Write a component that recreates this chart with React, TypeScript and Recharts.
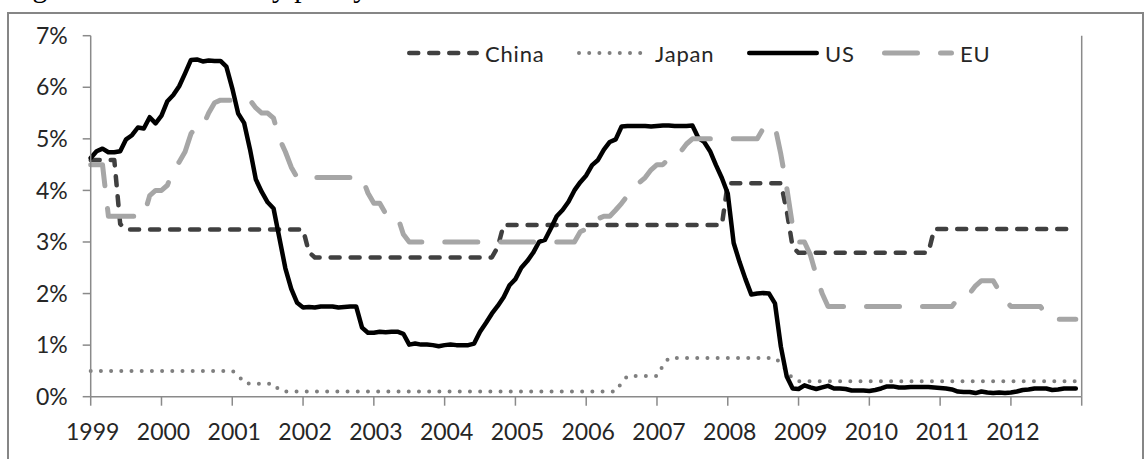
import { LineChart, Line, XAxis, YAxis } from "recharts";

// monthly policy rates, Jan 1999 - Dec 2012 (%), one row per year
const chinaRate = [
  4.59, 4.59, 4.59, 4.59, 4.59, 3.35, 3.24, 3.24, 3.24, 3.24, 3.24, 3.24,
  3.24, 3.24, 3.24, 3.24, 3.24, 3.24, 3.24, 3.24, 3.24, 3.24, 3.24, 3.24,
  3.24, 3.24, 3.24, 3.24, 3.24, 3.24, 3.24, 3.24, 3.24, 3.24, 3.24, 3.24,
  3.24, 2.8, 2.7, 2.7, 2.7, 2.7, 2.7, 2.7, 2.7, 2.7, 2.7, 2.7,
  2.7, 2.7, 2.7, 2.7, 2.7, 2.7, 2.7, 2.7, 2.7, 2.7, 2.7, 2.7,
  2.7, 2.7, 2.7, 2.7, 2.7, 2.7, 2.7, 2.7, 2.7, 2.9, 3.33, 3.33,
  3.33, 3.33, 3.33, 3.33, 3.33, 3.33, 3.33, 3.33, 3.33, 3.33, 3.33, 3.33,
  3.33, 3.33, 3.33, 3.33, 3.33, 3.33, 3.33, 3.33, 3.33, 3.33, 3.33, 3.33,
  3.33, 3.33, 3.33, 3.33, 3.33, 3.33, 3.33, 3.33, 3.33, 3.33, 3.33, 3.33,
  4.14, 4.14, 4.14, 4.14, 4.14, 4.14, 4.14, 4.14, 4.14, 4.14, 3.6, 2.9,
  2.79, 2.79, 2.79, 2.79, 2.79, 2.79, 2.79, 2.79, 2.79, 2.79, 2.79, 2.79,
  2.79, 2.79, 2.79, 2.79, 2.79, 2.79, 2.79, 2.79, 2.79, 2.79, 2.79, 3.25,
  3.25, 3.25, 3.25, 3.25, 3.25, 3.25, 3.25, 3.25, 3.25, 3.25, 3.25, 3.25,
  3.25, 3.25, 3.25, 3.25, 3.25, 3.25, 3.25, 3.25, 3.25, 3.25, 3.25, 3.25,
];

const japanRate = [
  0.5, 0.5, 0.5, 0.5, 0.5, 0.5, 0.5, 0.5, 0.5, 0.5, 0.5, 0.5,
  0.5, 0.5, 0.5, 0.5, 0.5, 0.5, 0.5, 0.5, 0.5, 0.5, 0.5, 0.5,
  0.5, 0.42, 0.27, 0.25, 0.25, 0.25, 0.25, 0.25, 0.12, 0.1, 0.1, 0.1,
  0.1, 0.1, 0.1, 0.1, 0.1, 0.1, 0.1, 0.1, 0.1, 0.1, 0.1, 0.1,
  0.1, 0.1, 0.1, 0.1, 0.1, 0.1, 0.1, 0.1, 0.1, 0.1, 0.1, 0.1,
  0.1, 0.1, 0.1, 0.1, 0.1, 0.1, 0.1, 0.1, 0.1, 0.1, 0.1, 0.1,
  0.1, 0.1, 0.1, 0.1, 0.1, 0.1, 0.1, 0.1, 0.1, 0.1, 0.1, 0.1,
  0.1, 0.1, 0.1, 0.1, 0.1, 0.1, 0.27, 0.4, 0.4, 0.4, 0.4, 0.4,
  0.4, 0.6, 0.75, 0.75, 0.75, 0.75, 0.75, 0.75, 0.75, 0.75, 0.75, 0.75,
  0.75, 0.75, 0.75, 0.75, 0.75, 0.75, 0.75, 0.75, 0.75, 0.65, 0.5, 0.35,
  0.3, 0.3, 0.3, 0.3, 0.3, 0.3, 0.3, 0.3, 0.3, 0.3, 0.3, 0.3,
  0.3, 0.3, 0.3, 0.3, 0.3, 0.3, 0.3, 0.3, 0.3, 0.3, 0.3, 0.3,
  0.3, 0.3, 0.3, 0.3, 0.3, 0.3, 0.3, 0.3, 0.3, 0.3, 0.3, 0.3,
  0.3, 0.3, 0.3, 0.3, 0.3, 0.3, 0.3, 0.3, 0.3, 0.3, 0.3, 0.3,
];

const usRate = [
  4.63, 4.76, 4.81, 4.74, 4.74, 4.76, 4.99, 5.07, 5.22, 5.2, 5.42, 5.3,
  5.45, 5.73, 5.85, 6.02, 6.27, 6.53, 6.54, 6.5, 6.52, 6.51, 6.51, 6.4,
  5.98, 5.49, 5.31, 4.8, 4.21, 3.97, 3.77, 3.65, 3.07, 2.49, 2.09, 1.82,
  1.73, 1.74, 1.73, 1.75, 1.75, 1.75, 1.73, 1.74, 1.75, 1.75, 1.34, 1.24,
  1.24, 1.26, 1.25, 1.26, 1.26, 1.22, 1.01, 1.03, 1.01, 1.01, 1.0, 0.98,
  1.0, 1.01, 1.0, 1.0, 1.0, 1.03, 1.26, 1.43, 1.61, 1.76, 1.93, 2.16,
  2.28, 2.5, 2.63, 2.79, 3.0, 3.04, 3.26, 3.5, 3.62, 3.78, 4.0, 4.16,
  4.29, 4.49, 4.59, 4.79, 4.94, 4.99, 5.24, 5.25, 5.25, 5.25, 5.25, 5.24,
  5.25, 5.26, 5.26, 5.25, 5.25, 5.25, 5.26, 5.02, 4.94, 4.76, 4.49, 4.24,
  3.94, 2.98, 2.61, 2.28, 1.98, 2.0, 2.01, 2.0, 1.81, 0.97, 0.39, 0.16,
  0.15, 0.22, 0.18, 0.15, 0.18, 0.21, 0.16, 0.16, 0.15, 0.12, 0.12, 0.12,
  0.11, 0.13, 0.16, 0.2, 0.2, 0.18, 0.18, 0.19, 0.19, 0.19, 0.19, 0.18,
  0.17, 0.16, 0.14, 0.1, 0.09, 0.09, 0.07, 0.1, 0.08, 0.07, 0.08, 0.07,
  0.08, 0.1, 0.13, 0.14, 0.16, 0.16, 0.16, 0.13, 0.14, 0.16, 0.16, 0.16,
];

const euRate = [
  4.5, 4.5, 4.5, 3.5, 3.5, 3.5, 3.5, 3.5, 3.5, 3.5, 3.9, 4.0,
  4.0, 4.1, 4.4, 4.55, 4.75, 5.1, 5.25, 5.25, 5.5, 5.7, 5.75, 5.75,
  5.75, 5.75, 5.75, 5.75, 5.6, 5.5, 5.5, 5.4, 5.0, 4.75, 4.45, 4.25,
  4.25, 4.25, 4.25, 4.25, 4.25, 4.25, 4.25, 4.25, 4.25, 4.25, 4.25, 3.95,
  3.75, 3.75, 3.55, 3.5, 3.5, 3.15, 3.0, 3.0, 3.0, 3.0, 3.0, 3.0,
  3.0, 3.0, 3.0, 3.0, 3.0, 3.0, 3.0, 3.0, 3.0, 3.0, 3.0, 3.0,
  3.0, 3.0, 3.0, 3.0, 3.0, 3.0, 3.0, 3.0, 3.0, 3.0, 3.0, 3.2,
  3.25, 3.25, 3.45, 3.5, 3.5, 3.62, 3.75, 3.9, 4.0, 4.15, 4.25, 4.4,
  4.5, 4.5, 4.62, 4.75, 4.75, 4.9, 5.0, 5.0, 5.0, 5.0, 5.0, 5.0,
  5.0, 5.0, 5.0, 5.0, 5.0, 5.0, 5.2, 5.25, 5.25, 4.7, 4.05, 3.3,
  3.0, 3.0, 2.75, 2.35, 2.0, 1.75, 1.75, 1.75, 1.75, 1.75, 1.75, 1.75,
  1.75, 1.75, 1.75, 1.75, 1.75, 1.75, 1.75, 1.75, 1.75, 1.75, 1.75, 1.75,
  1.75, 1.75, 1.75, 1.9, 2.0, 2.0, 2.15, 2.25, 2.25, 2.25, 2.05, 1.88,
  1.75, 1.75, 1.75, 1.75, 1.75, 1.75, 1.58, 1.5, 1.5, 1.5, 1.5, 1.5,
];

const yearLabels = [
  "1999", "2000", "2001", "2002", "2003", "2004", "2005",
  "2006", "2007", "2008", "2009", "2010", "2011", "2012", "",
];
const percentTicks = [0, 1, 2, 3, 4, 5, 6, 7];
const seriesNames = ["China", "Japan", "US", "EU"];

const FONT = "Lato, 'Open Sans', sans-serif";
const TEXT = "#262626";
const AXIS = "#8a8a8a";

const styles: Record<string, any> = {
  China: { stroke: "#404040", strokeWidth: 4.5, strokeDasharray: "9 11" },
  Japan: { stroke: "#7f7f7f", strokeWidth: 4, strokeDasharray: "0 10.2" },
  US: { stroke: "#000000", strokeWidth: 4.5 },
  EU: { stroke: "#a6a6a6", strokeWidth: 5, strokeDasharray: "33 23" },
};

// where each legend entry starts (px), matching the original layout
const legendLeft: Record<string, number> = { China: 407, Japan: 577, US: 747, EU: 882 };

const data = usRate.map((us, i) => ({
  m: i,
  China: chinaRate[i],
  Japan: japanRate[i],
  US: us,
  EU: euRate[i],
}));

const xTicks = yearLabels.map((_, k) => k * 12);
const tickFont = { fontSize: 23, fill: TEXT, fontFamily: FONT };

function RateLegend() {
  return (
    <>
      {seriesNames.map((name) => {
        const s = styles[name];
        const cap = s.strokeWidth / 2;
        return (
          <div
            key={name}
            style={{
              position: "absolute",
              left: legendLeft[name],
              top: 41,
              height: 24,
              display: "flex",
              alignItems: "center",
              fontFamily: FONT,
              fontSize: 22,
              letterSpacing: 0.8,
              color: TEXT,
              whiteSpace: "nowrap",
            }}
          >
            <svg width={72} height={12}>
              <line
                x1={cap}
                x2={72 - cap}
                y1={6}
                y2={6}
                stroke={s.stroke}
                strokeWidth={s.strokeWidth}
                strokeDasharray={s.strokeDasharray}
                strokeLinecap="round"
              />
            </svg>
            <span style={{ marginLeft: 6 }}>{name}</span>
          </div>
        );
      })}
    </>
  );
}

export default function App() {
  return (
    <div
      style={{
        position: "fixed",
        left: 0,
        top: 0,
        width: 1146,
        height: 459,
        overflow: "hidden",
        background: "#fff",
      }}
    >
      <svg width={1146} height={12} style={{ position: "absolute", left: 0, top: 0 }}>
        <text x={8} y={-3.5} fontFamily="'Liberation Serif', 'Times New Roman', serif" fontSize={29.5} fill="#000">
          Figure 1: The monetary policy rates
        </text>
      </svg>
      <div
        style={{
          position: "absolute",
          left: 7,
          top: 12,
          width: 1133,
          height: 470,
          border: "2px solid #868686",
        }}
      />
      <div style={{ position: "absolute", left: 8, top: 8 }}>
        <LineChart
          width={1130}
          height={451}
          data={data}
          margin={{ top: 27.7, right: 0, bottom: 22.3, left: 0 }}
        >
          <XAxis
            dataKey="m"
            type="number"
            domain={[0, 168]}
            ticks={xTicks}
            interval={0}
            tickFormatter={(v: number) => yearLabels[v / 12]}
            height={40}
            tickSize={9}
            tickMargin={18}
            tick={{ ...tickFont, dx: 2 }}
            stroke={AXIS}
            strokeWidth={1.5}
          />
          <YAxis
            yAxisId="left"
            domain={[0, 7]}
            ticks={percentTicks}
            interval={0}
            tickFormatter={(v: number) => `${v}%`}
            width={82.7}
            tickSize={8}
            tickMargin={15}
            tick={tickFont}
            stroke={AXIS}
            strokeWidth={1.5}
          />
          <YAxis
            yAxisId="right"
            orientation="right"
            domain={[0, 7]}
            ticks={percentTicks}
            interval={0}
            tickFormatter={(v: number) => `${v}%`}
            width={56.3}
            tickSize={9}
            tickMargin={15}
            tick={tickFont}
            stroke={AXIS}
            strokeWidth={1.5}
          />
          {seriesNames.map((name) => (
            <Line
              key={name}
              yAxisId="left"
              dataKey={name}
              type="linear"
              dot={false}
              activeDot={false}
              strokeLinecap="round"
              strokeLinejoin="round"
              isAnimationActive={false}
              {...styles[name]}
            />
          ))}
        </LineChart>
      </div>
      <RateLegend />
    </div>
  );
}
